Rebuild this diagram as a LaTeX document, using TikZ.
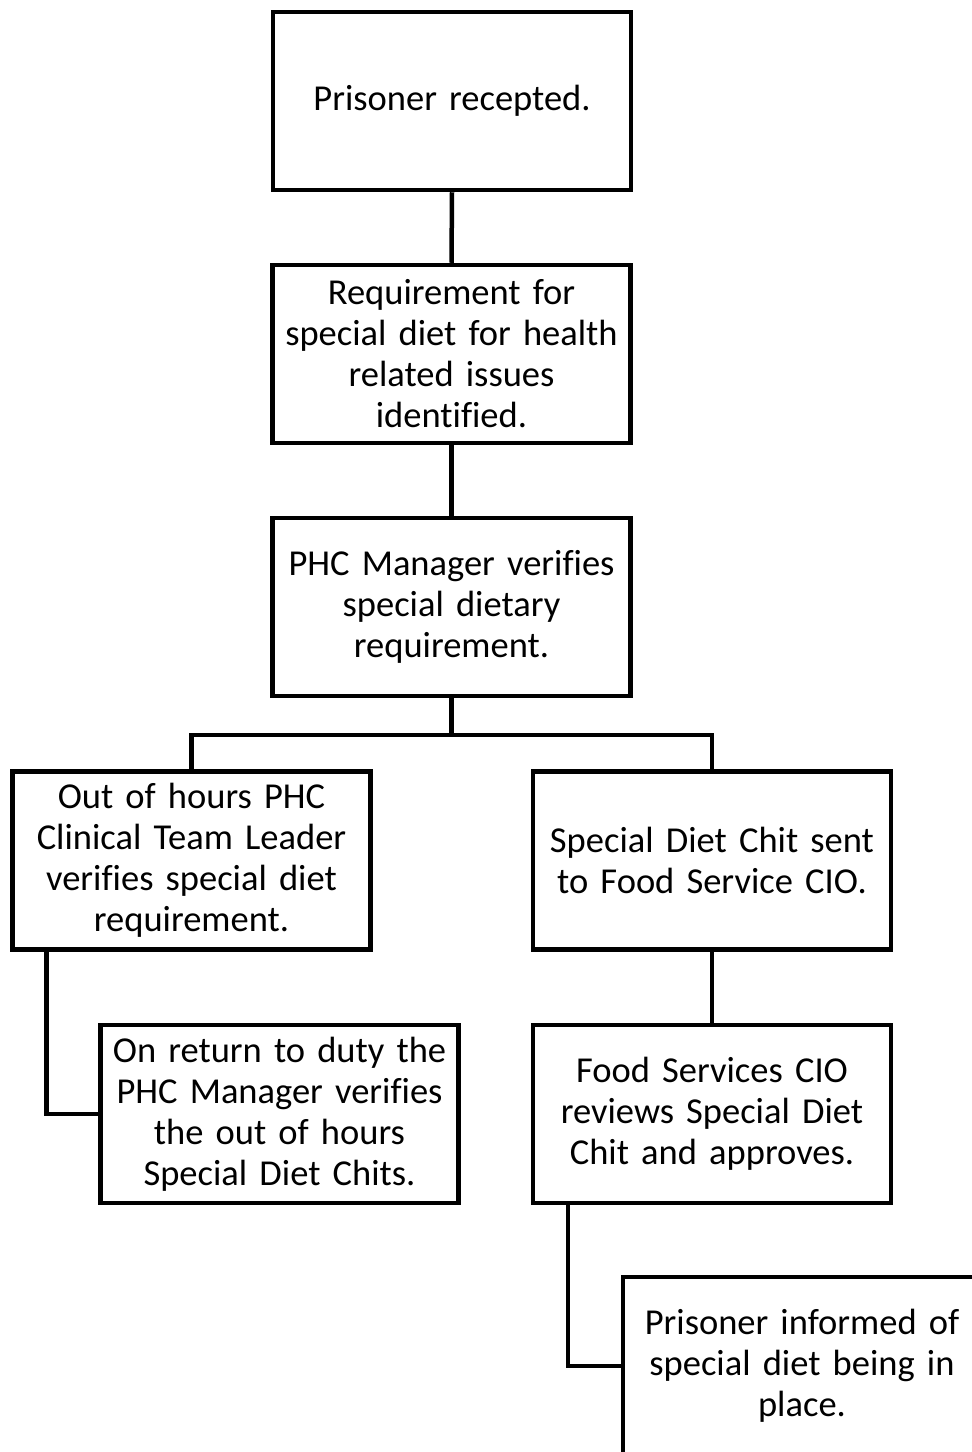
\documentclass[tikz,border=0pt]{standalone}
\usepackage{fontspec}
\setmainfont[Ligatures=CommonOff]{Carlito}
\usetikzlibrary{calc}
\begin{document}
\begin{tikzpicture}[x=1pt,y=1pt,
  box/.style={draw, line width=4.5pt, rectangle, minimum width=358pt, minimum height=178pt,
    text width=354pt, align=center, inner sep=0pt,
    font=\fontsize{36.5}{41}\selectfont},
  conn/.style={line width=4.5pt}]
\useasboundingbox (0,0) rectangle (972,-1452);
\clip (0,0) rectangle (972,-1452);
\fill[white] (0,0) rectangle (972,-1452);
\node[box] (b1) at (452,-101) {Prisoner recepted.};
\node[box] (b2) at (451.5,-354) {Requirement for\\special diet for health\\related issues\\identified.};
\node[box] (b3) at (451.5,-607) {PHC Manager verifies\\special dietary\\requirement.};
\node[box] (b4) at (191.5,-860.5) {Out of hours PHC\\Clinical Team Leader\\verifies special diet\\requirement.};
\node[box] (b5) at (712,-860.5) {Special Diet Chit sent\\to Food Service CIO.};
\node[box] (b6) at (279.5,-1114) {On return to duty the\\PHC Manager verifies\\the out of hours\\Special Diet Chits.};
\node[box] (b7) at (712,-1114) {Food Services CIO\\reviews Special Diet\\Chit and approves.};
\node[box] (b8) at (802,-1366) {Prisoner informed of\\special diet being in\\place.};
\coordinate (j) at (451.5,-735);
\draw[conn] (b1.south) -- (b2.north);
\draw[conn] (b2.south) -- (b3.north);
\draw[conn] (b3.south) -- (j);
\draw[conn] (b4.north) |- (j) -| (b5.north);
\draw[conn] ($(b4.south west)+(36,0)$) |- (b6.west);
\draw[conn] (b5.south) -- (b7.north);
\draw[conn] ($(b7.south west)+(37,0)$) |- (b8.west);
\end{tikzpicture}
\end{document}
